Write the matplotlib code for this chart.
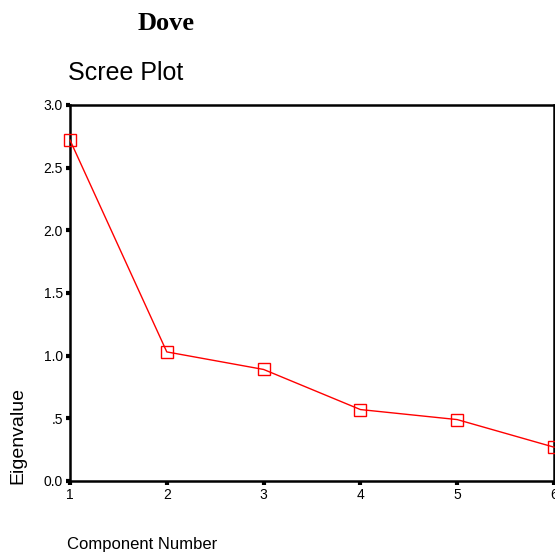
import matplotlib.pyplot as plt

# 数据
components = [1, 2, 3, 4, 5, 6]
eigenvalues = [2.72, 1.03, 0.89, 0.57, 0.49, 0.27]
y_ticks = [0.0, 0.5, 1.0, 1.5, 2.0, 2.5, 3.0]
y_tick_labels = ['0.0', '.5', '1.0', '1.5', '2.0', '2.5', '3.0']

plt.rcParams['font.family'] = ['Liberation Sans', 'DejaVu Sans']

fig = plt.figure(figsize=(5.55, 5.53), dpi=100)
# 坐标轴位置（像素换算）
W, H = 555, 553
ax = fig.add_axes([70 / W, 1 - 481 / H, (554 - 70) / W, (481 - 105) / H])

ax.plot(components, eigenvalues, color='red', linewidth=1.0,
        marker='s', markersize=8, markerfacecolor='none',
        markeredgecolor='red', markeredgewidth=1.0, clip_on=False, zorder=5)

ax.set_xlim(1, 6)
ax.set_ylim(0, 3)
ax.set_xticks(components)
ax.set_yticks(y_ticks)
ax.set_yticklabels(y_tick_labels)

for side in ['left', 'bottom', 'top', 'right']:
    ax.spines[side].set_linewidth(1.8)
ax.tick_params(direction='out', length=3, width=3, labelsize=10, pad=2)

# 标题和标签
fig.text(138 / W, 1 - 24 / H, 'Dove', family='Liberation Serif', weight='bold',
         fontsize=19, va='center', ha='left')
fig.text(68 / W, 1 - 73 / H, 'Scree Plot', fontsize=18, va='center', ha='left')
fig.text(18 / W, 1 - 435 / H, 'Eigenvalue', rotation=90, fontsize=14,
         va='center', ha='center')
fig.text(67 / W, 1 - 545 / H, 'Component Number', fontsize=12,
         va='center', ha='left')

plt.savefig('out.png', dpi=100)
